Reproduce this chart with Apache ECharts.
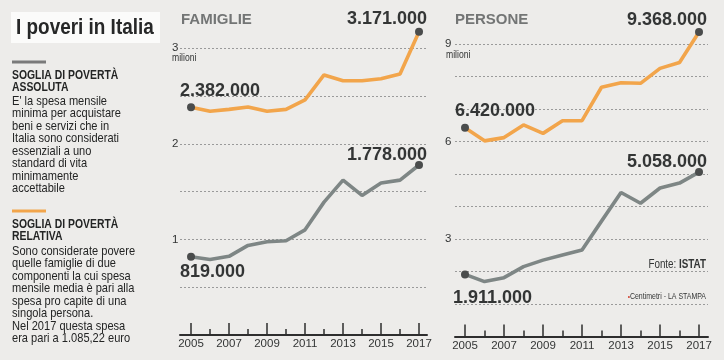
<!DOCTYPE html>
<html><head><meta charset="utf-8">
<script src="https://cdn.jsdelivr.net/npm/echarts@6/dist/echarts.min.js"></script>
<style>html,body{margin:0;padding:0;background:#edecea}#c{width:724px;height:360px}</style>
</head><body><div id="c"></div>
<script>
// ---- data ----
const years = [2005,2006,2007,2008,2009,2010,2011,2012,2013,2014,2015,2016,2017];
const xLabelYears = [2005,2007,2009,2011,2013,2015,2017];
const famiglieRelativa = [2.382,2.34,2.36,2.385,2.34,2.36,2.46,2.72,2.66,2.66,2.68,2.73,3.171];
const famiglieAssoluta = [0.819,0.790,0.823,0.937,0.976,0.986,1.10,1.39,1.62,1.46,1.59,1.62,1.778];
const personeRelativa = [6.42,6.02,6.12,6.51,6.25,6.64,6.64,7.67,7.81,7.79,8.25,8.43,9.368];
const personeAssoluta = [1.911,1.69,1.81,2.15,2.35,2.51,2.66,3.55,4.43,4.10,4.57,4.72,5.058];
const famiglieYTicks = [1,2,3];
const personeYTicks = [3,6,9];
const famiglieRelLabels = ['2.382.000','3.171.000'];
const famiglieAbsLabels = ['819.000','1.778.000'];
const personeRelLabels = ['6.420.000','9.368.000'];
const personeAbsLabels = ['1.911.000','5.058.000'];

// ---- style ----
const ORANGE = '#f2a54b', GREY = '#7e8685', DOT = '#4a4c4c', INK = '#333535', BODY = '#232424';
const SANS = "'Liberation Sans', Arial, sans-serif";
const NX = 0.82; // horizontal squeeze to mimic a narrow newspaper face

function mkSeries(vals, color, xi, yi, labels, startPos, endPos) {
  return {
    type: 'line', xAxisIndex: xi, yAxisIndex: yi, silent: true, animation: false,
    symbol: 'circle', symbolSize: 0, z: 3,
    lineStyle: { color: color, width: 3.6 },
    itemStyle: { color: DOT },
    data: vals.map((v, i) => {
      const it = { value: [years[i], v] };
      if (i === 0 || i === vals.length - 1) {
        const first = i === 0;
        it.symbolSize = 8;
        it.label = {
          show: true, formatter: first ? labels[0] : labels[1],
          position: first ? startPos : endPos,
          align: first ? 'left' : 'right', verticalAlign: 'middle',
          fontFamily: SANS, fontWeight: 'bold', fontSize: 18, color: INK
        };
      }
      return it;
    })
  };
}

function xAxes(grid, min, max) {
  return [{
    type: 'value', gridIndex: grid, min: min, max: max, position: 'bottom',
    axisLine: { show: true, onZero: false, lineStyle: { color: '#2e2e2e', width: 2 } },
    axisTick: { show: true, inside: true, length: 12, customValues: xLabelYears, lineStyle: { color: '#2e2e2e', width: 1.5 } },
    axisLabel: { customValues: xLabelYears, margin: 3, fontFamily: SANS, fontSize: 11.5, color: INK, formatter: v => String(v) },
    splitLine: { show: false }
  }, {
    type: 'value', gridIndex: grid, min: min, max: max, position: 'bottom',
    axisLine: { show: false },
    axisTick: { show: true, inside: true, length: 6, customValues: years, lineStyle: { color: '#2e2e2e', width: 1.5 } },
    axisLabel: { show: false }, splitLine: { show: false }
  }];
}

function yAxis(grid, max, interval, ticks, margin) {
  return {
    type: 'value', gridIndex: grid, min: 0, max: max, interval: interval,
    axisLine: { show: false }, axisTick: { show: false },
    axisLabel: { customValues: ticks, align: 'left', margin: margin, fontFamily: SANS, fontSize: 11.5, color: INK, formatter: v => String(v) },
    splitLine: { show: true, showMaxLine: false, lineStyle: { color: '#9a9a9a', type: [2, 2], width: 1 } }
  };
}

function txt(x, y, text, font, fill, extra, sx) {
  return { type: 'text', x: x, y: y, scaleX: sx || NX, style: Object.assign({ text: text, font: font, fill: fill }, extra || {}) };
}

const chart = echarts.init(document.getElementById('c'), null, { renderer: 'canvas' });
chart.setOption({
  backgroundColor: '#edecea',
  animation: false,
  grid: [
    { left: 180, right: 297, top: 19.5, bottom: 25 },
    { left: 455, right: 16, top: 24.5, bottom: 23.5 }
  ],
  xAxis: [...xAxes(0, 2004.42, 2017.42), ...xAxes(1, 2004.487, 2017.46)],
  yAxis: [yAxis(0, 3.3, 0.5, famiglieYTicks, 8), yAxis(1, 9.6, 1, personeYTicks, 10)],
  series: [
    mkSeries(famiglieRelativa, ORANGE, 0, 0, famiglieRelLabels, [-7, -12.3], [12, -8.8]),
    mkSeries(famiglieAssoluta, GREY, 0, 0, famiglieAbsLabels, [-7, 19.3], [12, -6]),
    mkSeries(personeRelativa, ORANGE, 2, 1, personeRelLabels, [-6, -13], [12, -8]),
    mkSeries(personeAssoluta, GREY, 2, 1, personeAbsLabels, [-8, 27.6], [12, -6])
  ],
  graphic: [
    { type: 'rect', shape: { x: 11, y: 12, width: 149, height: 31 }, style: { fill: '#fbfbfa' } },
    txt(16, 28, 'I poveri in Italia', "bold 22px " + SANS, '#262727', { textVerticalAlign: 'middle' }, 0.86),
    { type: 'rect', shape: { x: 12, y: 60.5, width: 34, height: 3 }, style: { fill: '#7a7a7a' } },
    txt(12, 68.5, 'SOGLIA DI POVERTÀ\nASSOLUTA', "bold 13.5px " + SANS, BODY, { lineHeight: 12.8 }, 0.77),
    txt(12, 95, "E' la spesa mensile\nminima per acquistare\nbeni e servizi che in\nItalia sono considerati\nessenziali a uno\nstandard di vita\nminimamente\naccettabile", "13.5px " + SANS, BODY, { lineHeight: 12.5 }),
    { type: 'rect', shape: { x: 12, y: 209.5, width: 34, height: 3 }, style: { fill: ORANGE } },
    txt(12, 217.5, 'SOGLIA DI POVERTÀ\nRELATIVA', "bold 13.5px " + SANS, BODY, { lineHeight: 12.8 }, 0.77),
    txt(12, 244.8, "Sono considerate povere\nquelle famiglie di due\ncomponenti la cui spesa\nmensile media è pari alla\nspesa pro capite di una\nsingola persona.\nNel 2017 questa spesa\nera pari a 1.085,22 euro", "13.5px " + SANS, BODY, { lineHeight: 12.5 }),
    { type: 'text', x: 181, y: 20, style: { text: 'FAMIGLIE', font: "bold 15px " + SANS, fill: '#737575', textVerticalAlign: 'middle' } },
    { type: 'text', x: 455, y: 20, style: { text: 'PERSONE', font: "bold 15px " + SANS, fill: '#737575', textVerticalAlign: 'middle' } },
    txt(172, 58, 'milioni', "10.5px " + SANS, INK, { textVerticalAlign: 'middle' }),
    txt(446, 55, 'milioni', "10.5px " + SANS, INK, { textVerticalAlign: 'middle' }),
    { type: 'text', x: 706, y: 265, scaleX: NX, style: { text: '{a|Fonte: }{b|ISTAT}', rich: { a: { font: "12px " + SANS, fill: INK }, b: { font: "bold 12px " + SANS, fill: INK } }, textAlign: 'right', textVerticalAlign: 'middle' } },
    { type: 'text', x: 706, y: 297, scaleX: NX, style: { text: '{r|•}{a|Centimetri - LA STAMPA}', rich: { r: { font: "8px " + SANS, fill: '#d04030' }, a: { font: "8.5px " + SANS, fill: INK } }, textAlign: 'right', textVerticalAlign: 'middle' } }
  ]
});
</script></body></html>
